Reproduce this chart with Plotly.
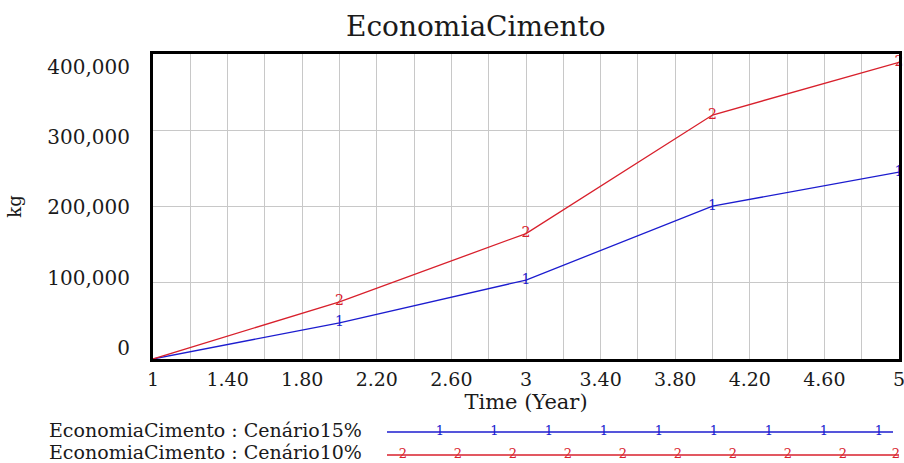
import plotly.graph_objects as go

# ---- data ----
years = [1, 2, 3, 4, 5]
cenario15 = [0, 47500, 103500, 200500, 245000]
cenario10 = [0, 75000, 164500, 320000, 389000]
series_names = ["EconomiaCimento : Cenário15%", "EconomiaCimento : Cenário10%"]
x_tickvals = [1, 1.4, 1.8, 2.2, 2.6, 3, 3.4, 3.8, 4.2, 4.6, 5]
x_ticktext = ["1", "1.40", "1.80", "2.20", "2.60", "3", "3.40", "3.80", "4.20", "4.60", "5"]
y_tickvals = [0, 100000, 200000, 300000, 400000]
y_ticktext = ["0", "100,000", "200,000", "300,000", "400,000"]

BLUE = "#1c1ccf"
RED = "#d8202c"
FONT = "DejaVu Serif"
GRID = "#c8c8c8"
TXT = "#1a1a1a"

W, H = 904, 463
L, R, T, B = 153, 5, 54, 0
plot_h = H - T - B
main_bottom_px = 359
main_dom0 = (H - main_bottom_px) / plot_h

fig = go.Figure()

def marker_text(ch, n):
    return [""] + [ch] * (n - 1)

fig.add_trace(go.Scatter(
    x=years, y=cenario15, mode="lines+text",
    line=dict(color=BLUE, width=1.3),
    text=marker_text("1", len(years)), textposition="middle center",
    textfont=dict(family=FONT, size=14, color=BLUE),
    cliponaxis=False, showlegend=False, name=series_names[0]))
fig.add_trace(go.Scatter(
    x=years, y=cenario10, mode="lines+text",
    line=dict(color=RED, width=1.3),
    text=marker_text("2", len(years)), textposition="middle center",
    textfont=dict(family=FONT, size=14, color=RED),
    cliponaxis=False, showlegend=False, name=series_names[1]))

# invisible trace to carry the label axis
fig.add_trace(go.Scatter(x=years, y=cenario15, xaxis="x", yaxis="y2",
                         mode="lines", line=dict(width=0), opacity=0,
                         hoverinfo="skip", showlegend=False))

# ---- legend drawn on a pixel-mapped helper axis ----
leg_dom_top = 0.25
leg_top_px = H - leg_dom_top * plot_h
leg_rows = [432, 455]
leg_text_y = [430, 452]
leg_line_x = [[387, 893], [387, 899]]
leg_mark_x = [[440, 494.5, 549, 604, 659, 714, 769, 824, 879],
              [403, 458, 513, 568, 623, 678, 733, 788, 843, 896]]
for i, (col, ch) in enumerate([(BLUE, "1"), (RED, "2")]):
    fig.add_trace(go.Scatter(x=leg_line_x[i], y=[leg_rows[i]] * 2, xaxis="x3", yaxis="y3",
                             mode="lines", line=dict(color=col, width=1.3),
                             hoverinfo="skip", showlegend=False))
    fig.add_trace(go.Scatter(x=leg_mark_x[i], y=[leg_rows[i]] * len(leg_mark_x[i]),
                             xaxis="x3", yaxis="y3", mode="text",
                             text=[ch] * len(leg_mark_x[i]), textposition="middle center",
                             textfont=dict(family=FONT, size=13, color=col),
                             cliponaxis=False, hoverinfo="skip", showlegend=False))
    fig.add_annotation(x=364, y=leg_text_y[i], xref="x3", yref="y3",
                       text=series_names[i], showarrow=False, xanchor="right",
                       yanchor="middle", font=dict(family=FONT, size=19, color=TXT))

# title
fig.add_annotation(x=(476 - L) / (W - L - R), y=(H - 27 - B) / plot_h, xref="paper", yref="paper",
                   text="EconomiaCimento", showarrow=False, xanchor="center", yanchor="middle",
                   font=dict(family=FONT, size=28, color=TXT))

fig.update_layout(
    width=W, height=H,
    margin=dict(l=L, r=R, t=T, b=B, pad=0, autoexpand=False),
    paper_bgcolor="white", plot_bgcolor="white",
    font=dict(family=FONT, color=TXT),
    xaxis=dict(range=[1, 5], domain=[0, 1], anchor="y", automargin=False,
               tickmode="array", tickvals=x_tickvals, ticktext=x_ticktext,
               tickfont=dict(family=FONT, size=19), ticks="", ticklabelstandoff=1,
               ticklabeloverflow="allow",
               showgrid=True, gridcolor=GRID, gridwidth=1,
               minor=dict(dtick=0.2, tick0=1, showgrid=True, gridcolor=GRID, gridwidth=1),
               showline=True, mirror=True, linecolor="black", linewidth=3, zeroline=False,
               title=dict(text="Time (Year)", font=dict(family=FONT, size=21), standoff=0)),
    yaxis=dict(range=[0, 400000], domain=[main_dom0, 1], anchor="x", automargin=False,
               tickvals=y_tickvals, showticklabels=False, ticks="",
               showgrid=True, gridcolor=GRID, gridwidth=1, zeroline=False,
               showline=True, mirror=True, linecolor="black", linewidth=3),
    yaxis2=dict(overlaying="y", anchor="x", side="left", automargin=False,
                range=[-15600, 418000], ticklabeloverflow="allow",
                tickmode="array", tickvals=y_tickvals, ticktext=y_ticktext,
                tickfont=dict(family=FONT, size=20), ticks="", ticklabelstandoff=22,
                showgrid=False, zeroline=False, showline=False,
                title=dict(text="kg", font=dict(family=FONT, size=18), standoff=20)),
    xaxis3=dict(domain=[0, 1], range=[L, W - R], anchor="y3", visible=False),
    yaxis3=dict(domain=[0, leg_dom_top], range=[H, leg_top_px], anchor="x3", visible=False),
)

fig.write_html("out.html", config={"displayModeBar": False},
               post_script="document.body.style.margin='0';")
